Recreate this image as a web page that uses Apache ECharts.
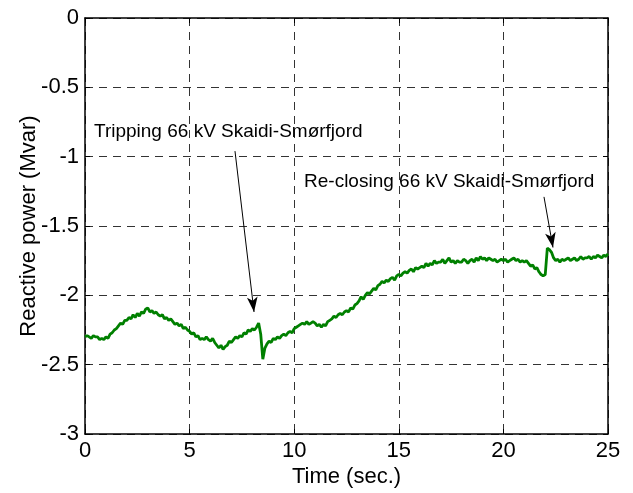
<!DOCTYPE html>
<html>
<head>
<meta charset="utf-8">
<script src="https://cdn.jsdelivr.net/npm/echarts@6/dist/echarts.min.js"></script>
<style>
  html, body { margin: 0; padding: 0; background: #fff; }
  #chart { width: 633px; height: 493px; }
</style>
</head>
<body>
<div id="chart"></div>
<script>
// Reactive power measured on the feeder, one sample every 0.1 s from 0 to 25 s (Mvar)
const SAMPLE_STEP = 0.1;
const reactivePower = [
  -2.30, -2.29, -2.30, -2.31, -2.29, -2.30, -2.30, -2.32, -2.31, -2.32,
  -2.30, -2.31, -2.28, -2.27, -2.25, -2.24, -2.22, -2.20, -2.21, -2.18,
  -2.18, -2.16, -2.17, -2.14, -2.16, -2.13, -2.15, -2.12, -2.13, -2.10,
  -2.09, -2.12, -2.11, -2.13, -2.12, -2.14, -2.15, -2.14, -2.17, -2.16,
  -2.18, -2.17, -2.19, -2.21, -2.20, -2.22, -2.21, -2.24, -2.23, -2.25,
  -2.26, -2.28, -2.27, -2.30, -2.29, -2.32, -2.31, -2.32, -2.30, -2.32,
  -2.33, -2.31, -2.34, -2.36, -2.38, -2.36, -2.39, -2.37, -2.36, -2.33,
  -2.34, -2.32, -2.30, -2.31, -2.29, -2.30, -2.27, -2.28, -2.25, -2.26,
  -2.24, -2.25, -2.23, -2.20, -2.28, -2.46, -2.38, -2.35, -2.33, -2.34,
  -2.31, -2.32, -2.30, -2.31, -2.29, -2.28, -2.29, -2.27, -2.26, -2.27,
  -2.24, -2.23, -2.22, -2.21, -2.20, -2.21, -2.19, -2.21, -2.20, -2.19,
  -2.20, -2.22, -2.21, -2.23, -2.21, -2.22, -2.19, -2.18, -2.17, -2.15,
  -2.16, -2.14, -2.13, -2.14, -2.12, -2.11, -2.12, -2.09, -2.10, -2.07,
  -2.06, -2.04, -2.01, -2.03, -2.00, -1.98, -1.99, -1.97, -1.95, -1.96,
  -1.93, -1.92, -1.90, -1.91, -1.89, -1.90, -1.88, -1.87, -1.89, -1.86,
  -1.85, -1.86, -1.84, -1.83, -1.84, -1.82, -1.81, -1.83, -1.80, -1.81,
  -1.80, -1.79, -1.80, -1.77, -1.79, -1.77, -1.78, -1.75, -1.77, -1.76,
  -1.76, -1.74, -1.77, -1.75, -1.73, -1.76, -1.75, -1.77, -1.75, -1.76,
  -1.76, -1.74, -1.75, -1.77, -1.75, -1.74, -1.76, -1.73, -1.75, -1.72,
  -1.74, -1.73, -1.75, -1.73, -1.74, -1.75, -1.74, -1.76, -1.75, -1.74,
  -1.75, -1.74, -1.76, -1.75, -1.74, -1.73, -1.75, -1.74, -1.76, -1.75,
  -1.76, -1.75, -1.77, -1.79, -1.78, -1.81, -1.80, -1.83, -1.85, -1.86,
  -1.85, -1.66, -1.67, -1.69, -1.73, -1.75, -1.74, -1.76, -1.74, -1.75,
  -1.74, -1.73, -1.75, -1.74, -1.73, -1.75, -1.74, -1.72, -1.74, -1.73,
  -1.73, -1.72, -1.74, -1.72, -1.73, -1.71, -1.72, -1.73, -1.71, -1.72,
  -1.70
];
const timeSec = reactivePower.map((_, i) => Number((i * SAMPLE_STEP).toFixed(1)));

// Axis ranges and tick steps
const xTicks = [0, 5, 10, 15, 20, 25];
const yTicks = [-3, -2.5, -2, -1.5, -1, -0.5, 0];

// Switching events: label text, where the label starts, and the arrow (data coordinates)
const eventLabels = ['Tripping 66 kV Skaidi-Smørfjord', 'Re-closing 66 kV Skaidi-Smørfjord'];
const eventLabelAt = [[0.43, -0.82], [10.47, -1.18]];
const eventArrowFrom = [[7.17, -0.96], [21.94, -1.29]];
const eventArrowTo = [[8.08, -2.12], [22.37, -1.655]];

const FONT = '"Liberation Sans", Arial, Helvetica, sans-serif';
const chart = echarts.init(document.getElementById('chart'), null, { renderer: 'canvas' });

const points = timeSec.map((t, i) => [t, reactivePower[i]]);

const axisCommon = {
  axisLine: { show: true, onZero: false, lineStyle: { color: '#000', width: 1.5 } },
  axisTick: { show: true, inside: true, length: 5, lineStyle: { color: '#000', width: 1 } }
};

const option = {
  animation: false,
  backgroundColor: '#fff',
  grid: { left: 85, top: 18, width: 523, height: 417, containLabel: false },
  xAxis: [
    Object.assign({
      type: 'value',
      min: xTicks[0], max: xTicks[xTicks.length - 1], interval: 5,
      name: 'Time (sec.)', nameLocation: 'middle', nameGap: 32, nameMoveOverlap: false,
      nameTextStyle: { fontFamily: FONT, fontSize: 22, color: '#000' },
      axisLabel: { fontFamily: FONT, fontSize: 22, color: '#000', margin: 6 },
      splitLine: { show: true, lineStyle: { color: '#333', width: 1, type: [8, 6] } }
    }, axisCommon),
    Object.assign({
      type: 'value', position: 'top',
      min: xTicks[0], max: xTicks[xTicks.length - 1], interval: 5,
      axisLabel: { show: false }, splitLine: { show: false }
    }, axisCommon)
  ],
  yAxis: [
    Object.assign({
      type: 'value',
      min: yTicks[0], max: yTicks[yTicks.length - 1], interval: 0.5,
      name: 'Reactive power (Mvar)', nameLocation: 'middle', nameGap: 45, nameRotate: 90,
      nameMoveOverlap: false,
      nameTextStyle: { fontFamily: FONT, fontSize: 22, color: '#000' },
      axisLabel: { fontFamily: FONT, fontSize: 22, color: '#000', margin: 6 },
      splitLine: { show: true, lineStyle: { color: '#333', width: 1, type: [8, 6] } }
    }, axisCommon),
    Object.assign({
      type: 'value', position: 'right',
      min: yTicks[0], max: yTicks[yTicks.length - 1], interval: 0.5,
      axisLabel: { show: false }, splitLine: { show: false }
    }, axisCommon)
  ],
  series: [{
    type: 'line',
    data: points,
    showSymbol: false,
    symbol: 'none',
    lineStyle: { color: '#008000', width: 2.8 },
    z: 3,
    markLine: {
      silent: true,
      symbol: ['none', 'arrow'],
      symbolSize: [8, 15],
      label: { show: false },
      lineStyle: { color: '#000', width: 1, type: 'solid' },
      data: eventArrowFrom.map((from, i) => [{ coord: from }, { coord: eventArrowTo[i] }])
    }
  }]
};

chart.setOption(option);

// Event labels placed through the chart's own coordinate conversion
const labelGraphics = eventLabels.map((text, i) => {
  const p = chart.convertToPixel({ gridIndex: 0 }, eventLabelAt[i]);
  return {
    type: 'text',
    x: p[0], y: p[1],
    z: 10,
    style: {
      text: text,
      fill: '#000',
      font: '19px ' + FONT,
      textAlign: 'left',
      textVerticalAlign: 'middle'
    }
  };
});
chart.setOption({ graphic: labelGraphics });
</script>
</body>
</html>
